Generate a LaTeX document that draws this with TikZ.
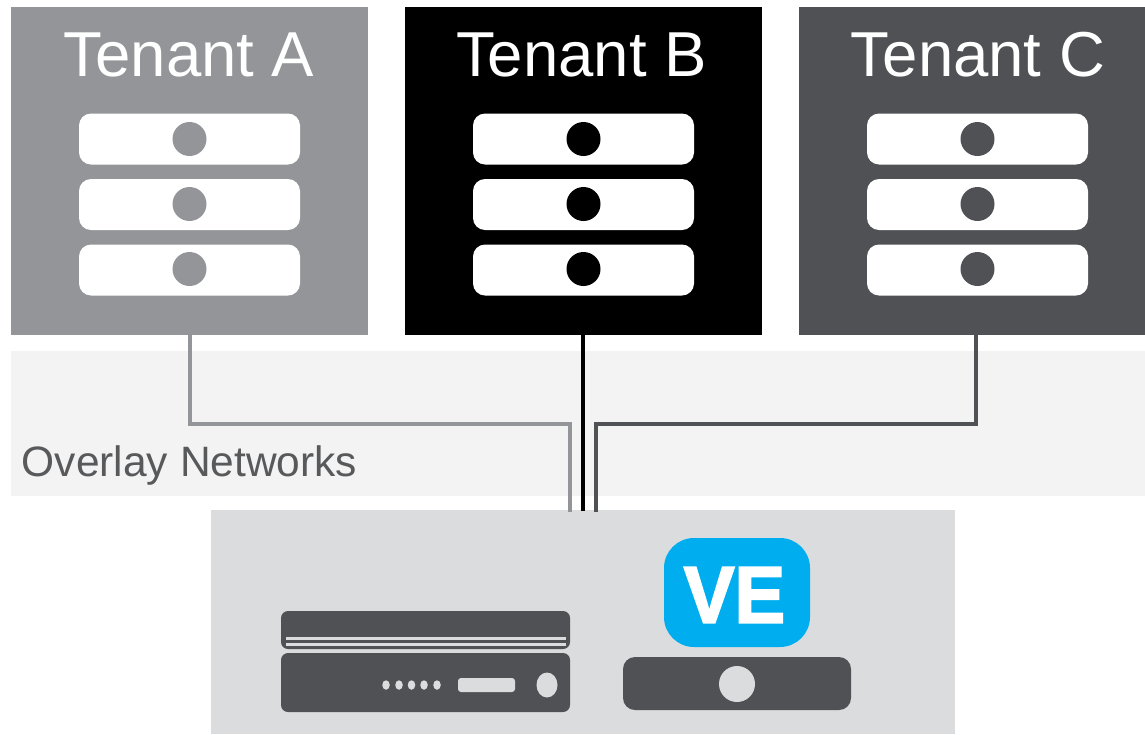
\documentclass[tikz,border=0pt]{standalone}
\usetikzlibrary{shapes.geometric}
\usepackage{fontspec}
\setmainfont{Liberation Sans}
\newfontfamily\vefont[FakeBold=2.5]{Liberation Sans Bold}
\definecolor{ca}{HTML}{939598}
\definecolor{cc}{HTML}{505155}
\definecolor{band}{HTML}{F3F3F3}
\definecolor{vebg}{HTML}{DBDCDE}
\definecolor{veblue}{HTML}{00AEEF}
\definecolor{ovl}{HTML}{58595B}
\tikzset{
  panel/.style={rectangle,inner sep=0pt,outer sep=0pt},
  tenantlabel/.style={anchor=base,text=white,inner sep=0pt,font=\fontsize{63.5}{63.5}\selectfont},
  serverbar/.style={panel,fill=white,rounded corners=12pt,minimum width=221pt,minimum height=51pt},
  led/.style={circle,inner sep=0pt,outer sep=0pt,minimum size=34pt},
  link/.style={line width=4pt,line join=miter},
  darkbox/.style={panel,fill=cc},
  light/.style={panel,fill=vebg},
}
\begin{document}
\begin{tikzpicture}[x=1pt,y=-1pt]
\useasboundingbox (0,0) rectangle (1145,734);
% backgrounds
\node[panel,fill=band,minimum width=1134pt,minimum height=145pt] (overlay) at (578,423.5) {};
\node[panel,fill=ca,minimum width=357pt,minimum height=328pt] (ta) at (189.5,171) {};
\node[panel,fill=black,minimum width=357pt,minimum height=328pt] (tb) at (583.5,171) {};
\node[panel,fill=cc,minimum width=346pt,minimum height=328pt] (tc) at (972,171) {};
\node[tenantlabel] (la) at (189,76) {Tenant A};
\node[tenantlabel] (lb) at (581.5,76) {Tenant B};
\node[tenantlabel] (lc) at (978,76) {Tenant C};
% servers
\foreach \n/\cx/\col in {a/189.5/ca,b/583.5/black,c/977.5/cc}{
  \node[serverbar] (s\n1) at (\cx,139) {};
  \node[serverbar] (s\n2) at (\cx,204.5) {};
  \node[serverbar] (s\n3) at (\cx,270) {};
  \node[led,fill=\col] (d\n1) at (\cx,139) {};
  \node[led,fill=\col] (d\n2) at (\cx,204) {};
  \node[led,fill=\col] (d\n3) at (\cx,269) {};
}
\node[anchor=base,text=ovl,inner sep=0pt,font=\fontsize{42.5}{42.5}\selectfont] (ovltext) at (189.5,476) {Overlay Networks};
% appliance box
\node[light,minimum width=744pt,minimum height=224pt] (ve) at (583,622) {};
% connectors
\coordinate (ka) at (570,424);
\coordinate (kc) at (596,424);
\coordinate (ea) at (570,511.5);
\coordinate (eb) at (583,511);
\coordinate (ec) at (596,511.5);
\coordinate (sa) at (190,335);
\coordinate (sb) at (583,335);
\coordinate (sc) at (976,335);
\draw[link,ca] (sa) |- (ka) -- (ea);
\draw[link,black] (sb) -- (eb);
\draw[link,cc] (sc) |- (kc) -- (ec);
% hardware appliance
\node[darkbox,rounded corners=7pt,minimum width=289pt,minimum height=38pt] (hw1) at (425.5,630) {};
\node[darkbox,rounded corners=7pt,minimum width=289pt,minimum height=59pt] (hw2) at (425.5,682.5) {};
\node[light,minimum width=280pt,minimum height=3pt] (hl1) at (426,638.8) {};
\node[light,minimum width=280pt,minimum height=2.5pt] (hl2) at (426,644.6) {};
\foreach \i/\cx in {1/386,2/399,3/411.5,4/424,5/437}{
  \node[light,ellipse,minimum width=7.5pt,minimum height=9.5pt] (hd\i) at (\cx,685) {};
}
\node[light,rounded corners=3pt,minimum width=57pt,minimum height=14pt] (hs) at (486.5,685) {};
\node[light,ellipse,minimum width=21pt,minimum height=25pt] (hk) at (547,685) {};
% VE
\node[panel,fill=veblue,rounded corners=30pt,minimum width=146pt,minimum height=109pt] (badge) at (737,592.5) {};
\node[anchor=base,text=white,inner sep=0pt,font=\vefont\fontsize{80}{80}\selectfont] (vetext) at (734.5,622.5) {\scalebox{.95}[1]{VE}};
\node[darkbox,rounded corners=12pt,minimum width=228pt,minimum height=53pt] (base) at (737,683.5) {};
\node[led,fill=vebg,minimum size=36pt] (basek) at (737,684) {};
\end{tikzpicture}
\end{document}
